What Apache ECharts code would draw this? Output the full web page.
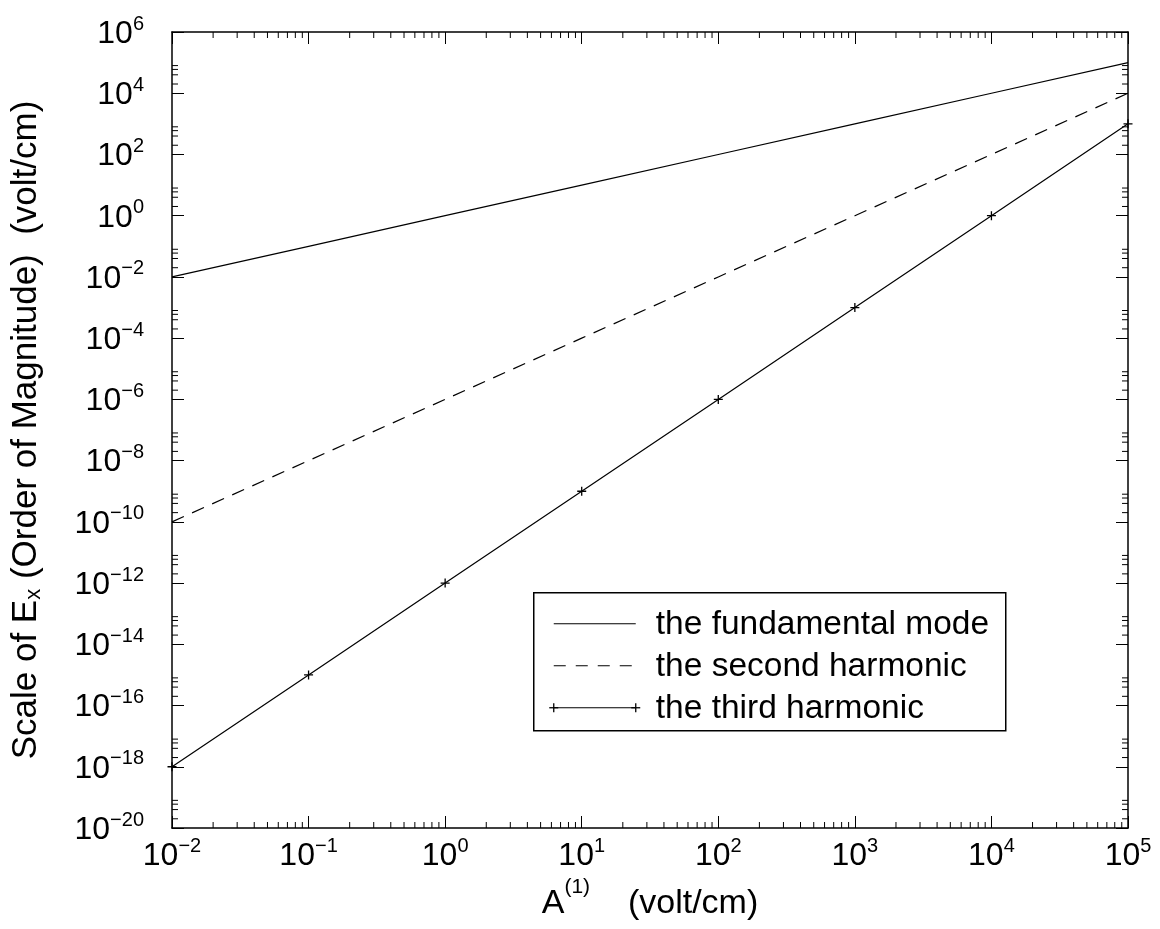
<!DOCTYPE html>
<html>
<head>
<meta charset="utf-8">
<script src="https://cdn.jsdelivr.net/npm/echarts@6/dist/echarts.min.js"></script>
<style>
  html, body { margin: 0; padding: 0; background: #fff; }
  #chart { width: 1160px; height: 929px; }
</style>
</head>
<body>
<div id="chart"></div>
<script>
// Field amplitude A(1) in volt/cm, one point per decade
const amplitude = [1e-2, 1e-1, 1e0, 1e1, 1e2, 1e3, 1e4, 1e5];
// Order-of-magnitude scale of E_x for each mode
const fundamentalMode = [1e-2, 1e-1, 1e0, 1e1, 1e2, 1e3, 1e4, 1e5];
const secondHarmonic = [1e-10, 1e-8, 1e-6, 1e-4, 1e-2, 1e0, 1e2, 1e4];
const thirdHarmonic = [1e-18, 1e-15, 1e-12, 1e-9, 1e-6, 1e-3, 1e0, 1e3];

const seriesNames = ['the fundamental mode', 'the second harmonic', 'the third harmonic'];

// Axis ranges, labelled decades and minor tick mantissas
const xRange = [1e-2, 1e5];
const yRange = [1e-20, 1e6];
const xMajorExponents = [-2, -1, 0, 1, 2, 3, 4, 5];
const yMajorExponents = [-20, -18, -16, -14, -12, -10, -8, -6, -4, -2, 0, 2, 4, 6];
const xMinorMantissas = [2, 3, 4, 5, 6, 7, 8, 9];
const yMinorMantissas = [2, 4, 6, 8];

const FONT = '"Liberation Sans", Arial, Helvetica, sans-serif';
const MAJOR_LEN = 12;
const MINOR_LEN = 6;
const TEXT_SIZE = 33;

function zip(xs, ys) { return xs.map((x, i) => [x, ys[i]]); }

function minorValues(exponents, mantissas) {
  const out = [];
  for (let i = 0; i < exponents.length - 1; i++) {
    for (const m of mantissas) out.push(m * Math.pow(10, exponents[i]));
  }
  return out;
}

function powerLabel(v) {
  const e = Math.round(Math.log10(v));
  const s = e < 0 ? '\u2212' + Math.abs(e) : String(e);
  return '{b|10}{s|' + s + '}';
}

const tickRich = {
  b: { fontFamily: FONT, fontSize: 32, lineHeight: 32, verticalAlign: 'bottom', color: '#000' },
  s: { fontFamily: FONT, fontSize: 20, verticalAlign: 'top', padding: [0, 0, 16, 0], color: '#000' }
};

const axisLineStyle = { color: '#000', width: 1.5 };
const majorTick = { inside: true, length: MAJOR_LEN, lineStyle: { color: '#000', width: 1 } };

const chart = echarts.init(document.getElementById('chart'), null, { renderer: 'canvas' });

const option = {
  animation: false,
  backgroundColor: '#fff',
  grid: { left: 172, right: 32, top: 32, bottom: 101, containLabel: false },
  xAxis: [
    {
      type: 'log', logBase: 10, min: xRange[0], max: xRange[1], interval: 1,
      position: 'bottom',
      axisLine: { show: true, lineStyle: axisLineStyle },
      axisTick: majorTick,
      splitLine: { show: false },
      axisLabel: { formatter: powerLabel, rich: tickRich, margin: 8, showMinLabel: true, showMaxLabel: true },
      name: '{t|A}{sup|(1)}{t|    (volt/cm)}',
      nameLocation: 'middle', nameGap: 45,
      nameTextStyle: {
        rich: {
          t: { fontFamily: FONT, fontSize: 34, lineHeight: 32, verticalAlign: 'bottom', color: '#000' },
          sup: { fontFamily: FONT, fontSize: 21, verticalAlign: 'top', padding: [0, 0, 23, 0], color: '#000' }
        }
      }
    },
    {
      type: 'log', logBase: 10, min: xRange[0], max: xRange[1], interval: 1,
      position: 'top',
      axisLine: { show: true, lineStyle: axisLineStyle },
      axisTick: majorTick,
      splitLine: { show: false },
      axisLabel: { show: false }
    }
  ],
  yAxis: [
    {
      type: 'log', logBase: 10, min: yRange[0], max: yRange[1], interval: 2,
      position: 'left',
      axisLine: { show: true, lineStyle: axisLineStyle },
      axisTick: majorTick,
      splitLine: { show: false },
      axisLabel: { formatter: powerLabel, rich: tickRich, margin: 28, showMinLabel: true, showMaxLabel: true },
      name: '{t|Scale of E}{sub|x}{t| (Order of Magnitude)  (volt/cm)}',
      nameLocation: 'middle', nameGap: 127, nameRotate: 90,
      nameTextStyle: {
        rich: {
          t: { fontFamily: FONT, fontSize: 35, lineHeight: 32, verticalAlign: 'top', color: '#000' },
          sub: { fontFamily: FONT, fontSize: 22, verticalAlign: 'bottom', padding: [14, 0, 0, 0], color: '#000' }
        }
      }
    },
    {
      type: 'log', logBase: 10, min: yRange[0], max: yRange[1], interval: 2,
      position: 'right',
      axisLine: { show: true, lineStyle: axisLineStyle },
      axisTick: majorTick,
      splitLine: { show: false },
      axisLabel: { show: false }
    }
  ],
  series: [
    {
      name: seriesNames[0], type: 'line', xAxisIndex: 0, yAxisIndex: 0,
      data: zip(amplitude, fundamentalMode),
      symbol: 'none', clip: false, silent: true,
      lineStyle: { color: '#000', width: 1.2 }
    },
    {
      name: seriesNames[1], type: 'line', xAxisIndex: 0, yAxisIndex: 0,
      data: zip(amplitude, secondHarmonic),
      symbol: 'none', clip: false, silent: true,
      lineStyle: { color: '#000', width: 1.2, type: [13, 9] }
    },
    {
      name: seriesNames[2], type: 'line', xAxisIndex: 0, yAxisIndex: 0,
      data: zip(amplitude, thirdHarmonic),
      symbol: 'path://M0,5L10,5M5,0L5,10', symbolSize: 9, showAllSymbol: true,
      clip: false, silent: true,
      lineStyle: { color: '#000', width: 1.2 },
      itemStyle: { color: '#000', borderColor: '#000', borderWidth: 1.3 }
    },
    {
      // minor ticks on the bottom and top edges
      type: 'custom', xAxisIndex: 0, yAxisIndex: 0, silent: true, clip: false,
      data: minorValues(xMajorExponents, xMinorMantissas).map(v => [v, yRange[0]]),
      renderItem: function (params, api) {
        const x = api.value(0);
        const b = api.coord([x, yRange[0]]);
        const t = api.coord([x, yRange[1]]);
        const st = { stroke: '#000', lineWidth: 1 };
        return { type: 'group', children: [
          { type: 'line', shape: { x1: b[0], y1: b[1], x2: b[0], y2: b[1] - MINOR_LEN }, style: st },
          { type: 'line', shape: { x1: t[0], y1: t[1], x2: t[0], y2: t[1] + MINOR_LEN }, style: st }
        ] };
      }
    },
    {
      // minor ticks on the left and right edges
      type: 'custom', xAxisIndex: 0, yAxisIndex: 0, silent: true, clip: false,
      data: minorValues(yMajorExponents, yMinorMantissas).map(v => [xRange[0], v]),
      renderItem: function (params, api) {
        const y = api.value(1);
        const l = api.coord([xRange[0], y]);
        const r = api.coord([xRange[1], y]);
        const st = { stroke: '#000', lineWidth: 1 };
        return { type: 'group', children: [
          { type: 'line', shape: { x1: l[0], y1: l[1], x2: l[0] + MINOR_LEN, y2: l[1] }, style: st },
          { type: 'line', shape: { x1: r[0], y1: r[1], x2: r[0] - MINOR_LEN, y2: r[1] }, style: st }
        ] };
      }
    }
  ],
  graphic: [
    {
      type: 'group', left: 533, top: 592, silent: true,
      children: [
        { type: 'rect', shape: { x: 0, y: 0, width: 472, height: 138 }, style: { fill: '#fff', stroke: '#000', lineWidth: 1.5 } },
        { type: 'line', shape: { x1: 20, y1: 31, x2: 102, y2: 31 }, style: { stroke: '#000', lineWidth: 1.2 } },
        { type: 'line', shape: { x1: 20, y1: 73, x2: 102, y2: 73 }, style: { stroke: '#000', lineWidth: 1.2, lineDash: [12, 10] } },
        { type: 'line', shape: { x1: 20, y1: 115, x2: 102, y2: 115 }, style: { stroke: '#000', lineWidth: 1.2 } },
        { type: 'line', shape: { x1: 15.5, y1: 115, x2: 24.5, y2: 115 }, style: { stroke: '#000', lineWidth: 1.3 } },
        { type: 'line', shape: { x1: 20, y1: 110.5, x2: 20, y2: 119.5 }, style: { stroke: '#000', lineWidth: 1.3 } },
        { type: 'line', shape: { x1: 97.5, y1: 115, x2: 106.5, y2: 115 }, style: { stroke: '#000', lineWidth: 1.3 } },
        { type: 'line', shape: { x1: 102, y1: 110.5, x2: 102, y2: 119.5 }, style: { stroke: '#000', lineWidth: 1.3 } },
        { type: 'text', x: 122, y: 32, style: { text: seriesNames[0], font: '33.5px ' + FONT, fill: '#000', verticalAlign: 'middle' } },
        { type: 'text', x: 122, y: 74, style: { text: seriesNames[1], font: '33.5px ' + FONT, fill: '#000', verticalAlign: 'middle' } },
        { type: 'text', x: 122, y: 116, style: { text: seriesNames[2], font: '33.5px ' + FONT, fill: '#000', verticalAlign: 'middle' } }
      ]
    }
  ]
};

chart.setOption(option);
</script>
</body>
</html>
